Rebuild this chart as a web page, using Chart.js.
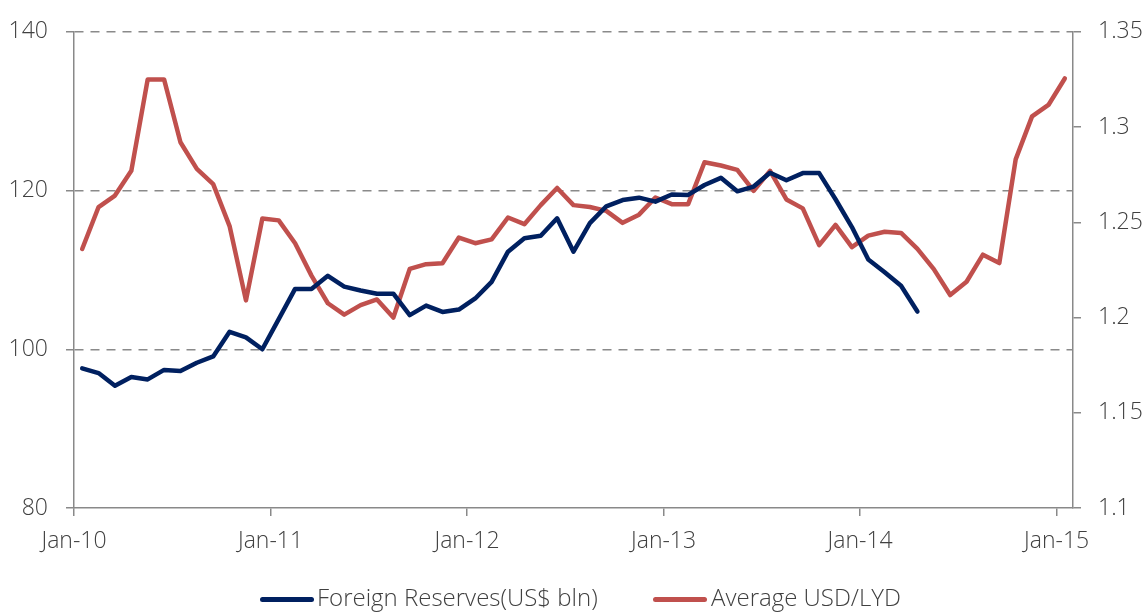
<!DOCTYPE html>
<html>
<head>
<meta charset="utf-8">
<script src="https://cdn.jsdelivr.net/npm/chart.js@4.4.1/dist/chart.umd.min.js"></script>
<style>
  html, body { margin: 0; padding: 0; background: #ffffff; }
  #wrap { position: relative; width: 1148px; height: 612px; overflow: hidden; }
  #chart { position: absolute; left: 0; top: 0; }
  .lg-swatch { position: absolute; height: 5px; border-radius: 3px; }
  .lg-text { position: absolute; font-family: "Open Sans", Lato, sans-serif; font-weight: 300;
             font-size: 24px; line-height: 28px; color: #404040; white-space: nowrap; }
</style>
</head>
<body>
<div id="wrap">
  <canvas id="chart" width="1148" height="612"></canvas>
  <div class="lg-swatch" style="left:260px;top:597px;width:54px;background:#002060;"></div>
  <div class="lg-text" id="lg1" style="left:317px;top:583px;"></div>
  <div class="lg-swatch" style="left:653px;top:597px;width:54px;background:#C0504D;"></div>
  <div class="lg-text" id="lg2" style="left:711px;top:583px;"></div>
</div>
<script>
// ---- data ----
const monthNames = ['Jan','Feb','Mar','Apr','May','Jun','Jul','Aug','Sep','Oct','Nov','Dec'];
const years = ['10','11','12','13','14','15'];
const months = [];
years.forEach(y => monthNames.forEach(m => months.push(m + '-' + y)));
months.length = 61; // Jan-10 .. Jan-15

const seriesNames = ['Foreign Reserves(US$ bln)', 'Average USD/LYD'];

// Foreign reserves, US$ bln (Jan-10 .. Apr-14)
const reserves = [97.6, 97.0, 95.4, 96.5, 96.2, 97.4, 97.25, 98.3, 99.1, 102.2,
                  101.5, 100.0, 103.8, 107.6, 107.6, 109.25, 107.9, 107.4, 107.0, 107.0,
                  104.3, 105.5, 104.7, 105.0, 106.4, 108.5, 112.3, 114.0, 114.3, 116.5,
                  112.3, 115.9, 118.0, 118.8, 119.1, 118.6, 119.5, 119.45, 120.7, 121.6,
                  119.9, 120.5, 122.25, 121.3, 122.2, 122.2, 118.9, 115.4, 111.3, 109.7,
                  108.0, 104.75];

// Average USD/LYD (Jan-10 .. Jan-15)
const usdLyd = [1.236, 1.258, 1.264, 1.277, 1.325, 1.325, 1.292, 1.278, 1.270, 1.248,
                1.209, 1.252, 1.251, 1.239, 1.222, 1.2075, 1.2015, 1.2065, 1.2095, 1.200,
                1.2255, 1.228, 1.2285, 1.242, 1.239, 1.241, 1.2525, 1.249, 1.259, 1.268,
                1.259, 1.258, 1.256, 1.2497, 1.254, 1.263, 1.2595, 1.2595, 1.2815, 1.2798,
                1.2775, 1.2665, 1.277, 1.262, 1.2573, 1.238, 1.2486, 1.237, 1.243, 1.245,
                1.2444, 1.236, 1.2254, 1.2118, 1.2188, 1.233, 1.2286, 1.283, 1.3056, 1.3116,
                1.3255];

const xTickLabels = ['Jan-10', 'Jan-11', 'Jan-12', 'Jan-13', 'Jan-14', 'Jan-15'];
const leftTicks = [80, 100, 120, 140];
const rightTicks = [1.1, 1.15, 1.2, 1.25, 1.3, 1.35];

// ---- chart ----
document.getElementById('lg1').textContent = seriesNames[0];
document.getElementById('lg2').textContent = seriesNames[1];

const FONT = { family: '"Open Sans", Lato, sans-serif', size: 23, weight: '300' };
const TXT = '#404040';
const AXIS = '#898989';

const toPoints = arr => arr.map((v, i) => ({ x: i + 0.5, y: v }));
const xTickPos = xTickLabels.map(l => months.indexOf(l));

new Chart(document.getElementById('chart'), {
  type: 'line',
  data: {
    datasets: [
      { label: seriesNames[0], data: toPoints(reserves), yAxisID: 'yL',
        borderColor: '#002060', backgroundColor: '#002060', borderWidth: 4.5,
        pointRadius: 0, tension: 0, borderJoinStyle: 'round', borderCapStyle: 'round' },
      { label: seriesNames[1], data: toPoints(usdLyd), yAxisID: 'yR',
        borderColor: '#C0504D', backgroundColor: '#C0504D', borderWidth: 4.5,
        pointRadius: 0, tension: 0, borderJoinStyle: 'round', borderCapStyle: 'round' }
    ]
  },
  options: {
    responsive: false,
    animation: false,
    events: [],
    layout: { padding: { top: 28, left: 0, right: 0, bottom: 0 } },
    plugins: { legend: { display: false }, tooltip: { enabled: false } },
    scales: {
      x: {
        type: 'linear', min: 0, max: months.length,
        afterFit: s => { s.height = 104; },
        afterBuildTicks: s => { s.ticks = xTickPos.map(v => ({ value: v })); },
        ticks: { autoSkip: false, maxRotation: 0, padding: 12, color: TXT, font: FONT,
                 callback: v => months[v] },
        grid: { drawOnChartArea: false, color: AXIS, tickLength: 8, lineWidth: 1.5 },
        border: { color: AXIS, width: 1.5 }
      },
      yL: {
        position: 'left', min: 80, max: 140,
        afterFit: s => { s.width = 74; },
        afterBuildTicks: s => { s.ticks = leftTicks.map(v => ({ value: v })); },
        ticks: { padding: 18, color: TXT, font: FONT, callback: v => String(v) },
        grid: { color: c => (c.tick && c.tick.value === 80) ? 'rgba(0,0,0,0)' : '#8a8a8a',
                lineWidth: 1.5, tickLength: 8, tickColor: AXIS, tickBorderDash: [], tickWidth: 1.5 },
        border: { color: AXIS, width: 1.5, dash: [9, 7] }
      },
      yR: {
        position: 'right', min: 1.1, max: 1.35,
        afterFit: s => { s.width = 75; },
        afterBuildTicks: s => { s.ticks = rightTicks.map(v => ({ value: v })); },
        ticks: { padding: 17, color: TXT, font: FONT, callback: v => String(+v.toFixed(2)) },
        grid: { drawOnChartArea: false, color: AXIS, tickLength: 8, lineWidth: 1.5 },
        border: { color: AXIS, width: 1.5 }
      }
    }
  }
});
</script>
</body>
</html>
